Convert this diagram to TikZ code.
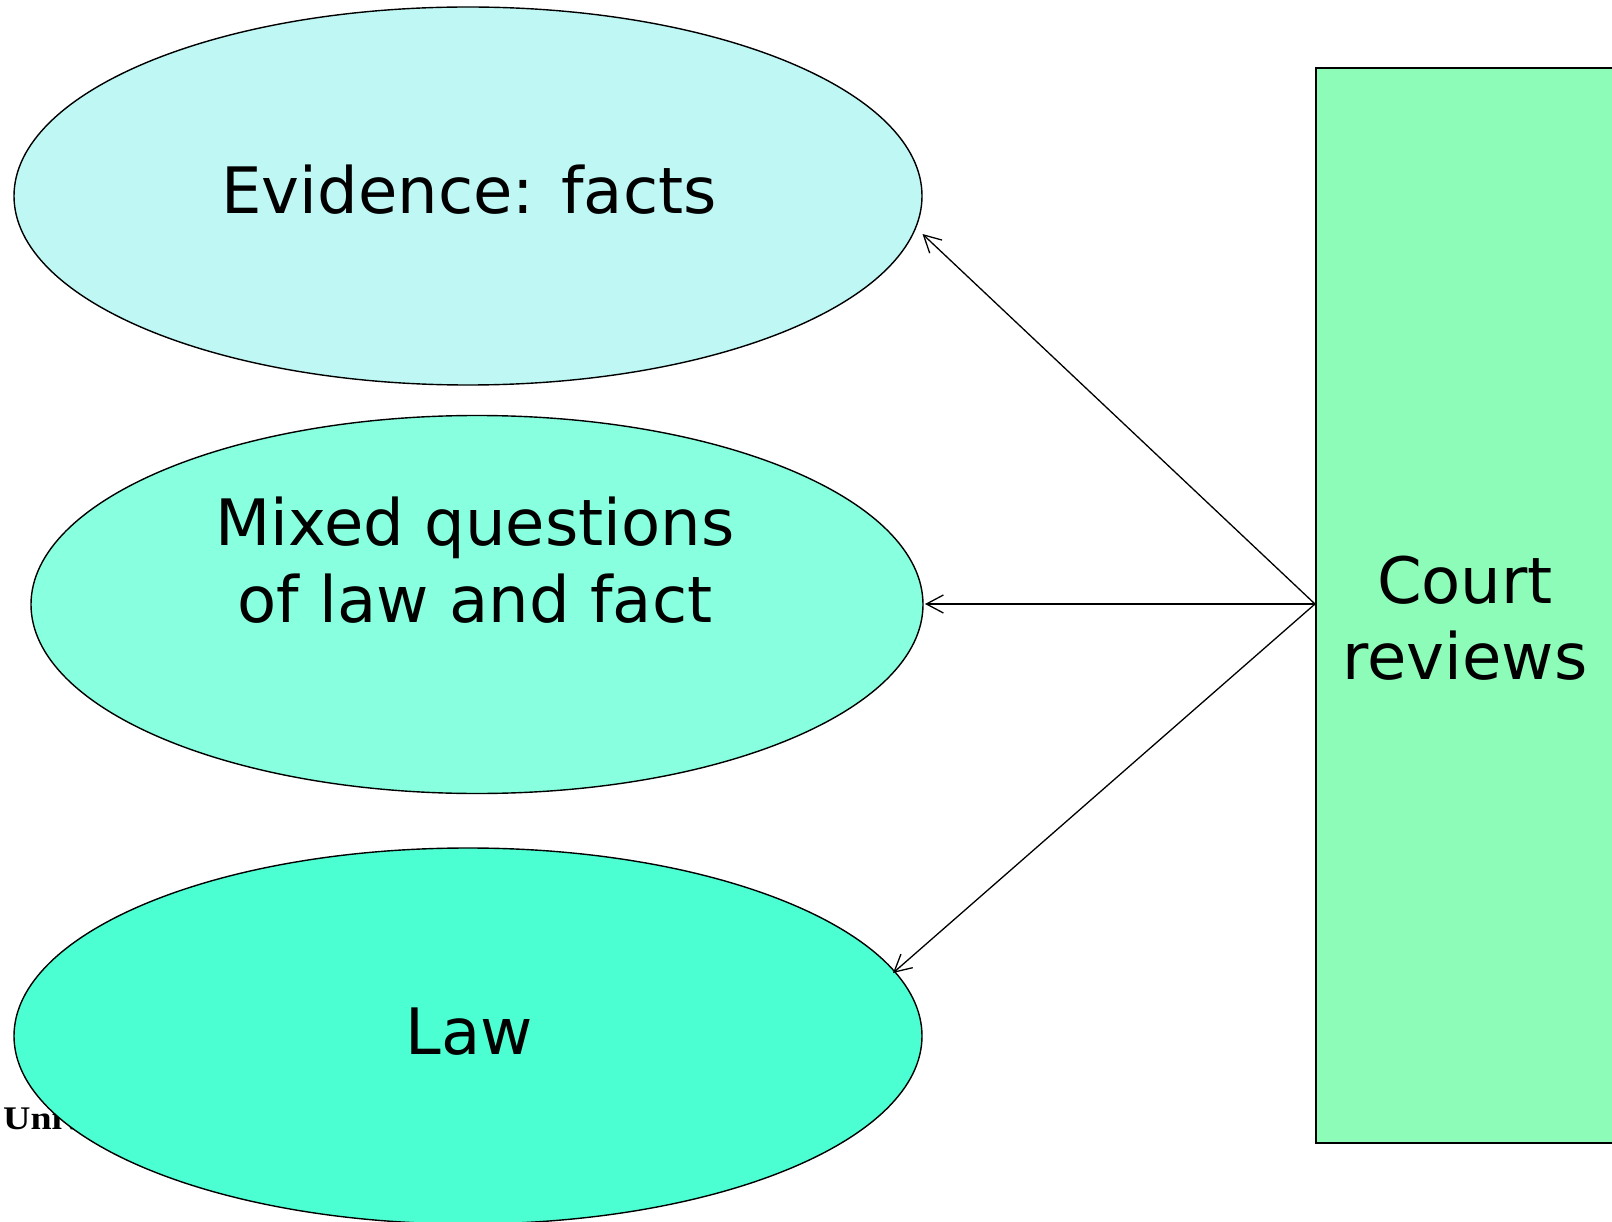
\documentclass[tikz,border=0pt]{standalone}
\usepackage{fontspec}
\setmainfont{DejaVu Sans}
\newfontfamily\serifbold{Liberation Serif}
\usetikzlibrary{shapes.geometric,arrows.meta}
\definecolor{evcol}{RGB}{191,247,245}
\definecolor{mixcol}{RGB}{136,255,222}
\definecolor{lawcol}{RGB}{76,255,210}
\definecolor{courtcol}{RGB}{140,252,184}
\tikzset{
  oval/.style={ellipse, draw=black, line width=1.4pt, inner sep=0pt},
  bigtext/.style={anchor=base, inner sep=0pt, font=\fontsize{64}{77}\selectfont},
  reviewarrow/.style={line width=1.3pt, -{Straight Barb[length=17pt,width=18pt,line width=1.3pt]}},
}
\begin{document}
\begin{tikzpicture}[x=1pt,y=-1pt]
\useasboundingbox (0,0) rectangle (1612,1222);
\clip (0,0) rectangle (1612,1222);
\fill[white] (0,0) rectangle (1612,1222);
% partially hidden footer text
\node[anchor=base west, inner sep=0pt, font=\serifbold\bfseries\fontsize{33}{38}\selectfont] (uni) at (3,1129) {\scalebox{1.15}[1]{Univ}};
% ellipses
\node[oval, fill=evcol, minimum width=908pt, minimum height=378pt] (ev) at (468,196) {};
\node[oval, fill=mixcol, minimum width=892pt, minimum height=378pt] (mix) at (477,604.5) {};
\node[oval, fill=lawcol, minimum width=908pt, minimum height=376pt] (law) at (468,1036) {};
% court box
\node[draw=black, line width=2pt, fill=courtcol, anchor=north west, minimum width=340pt, minimum height=1075pt, inner sep=0pt] (court) at (1315,67) {};
% texts
\node[bigtext] (evt) at (469,214) {Evidence: facts};
\node[bigtext] (mixa) at (475,545) {Mixed questions};
\node[bigtext] (mixb) at (475,622) {of law and fact};
\node[bigtext] (lawt) at (469,1054) {Law};
\node[bigtext] (courta) at (1465,603.5) {Court};
\node[bigtext] (courtb) at (1465,679) {reviews};
% arrows
\coordinate (src) at (1315,604);
\coordinate (tev) at (922.5,234);
\coordinate (tmix) at (925,604);
\coordinate (tlaw) at (893,973);
\draw[reviewarrow] (src) -- (tev);
\draw[reviewarrow] (src) -- (tmix);
\draw[reviewarrow] (src) -- (tlaw);
\end{tikzpicture}
\end{document}
